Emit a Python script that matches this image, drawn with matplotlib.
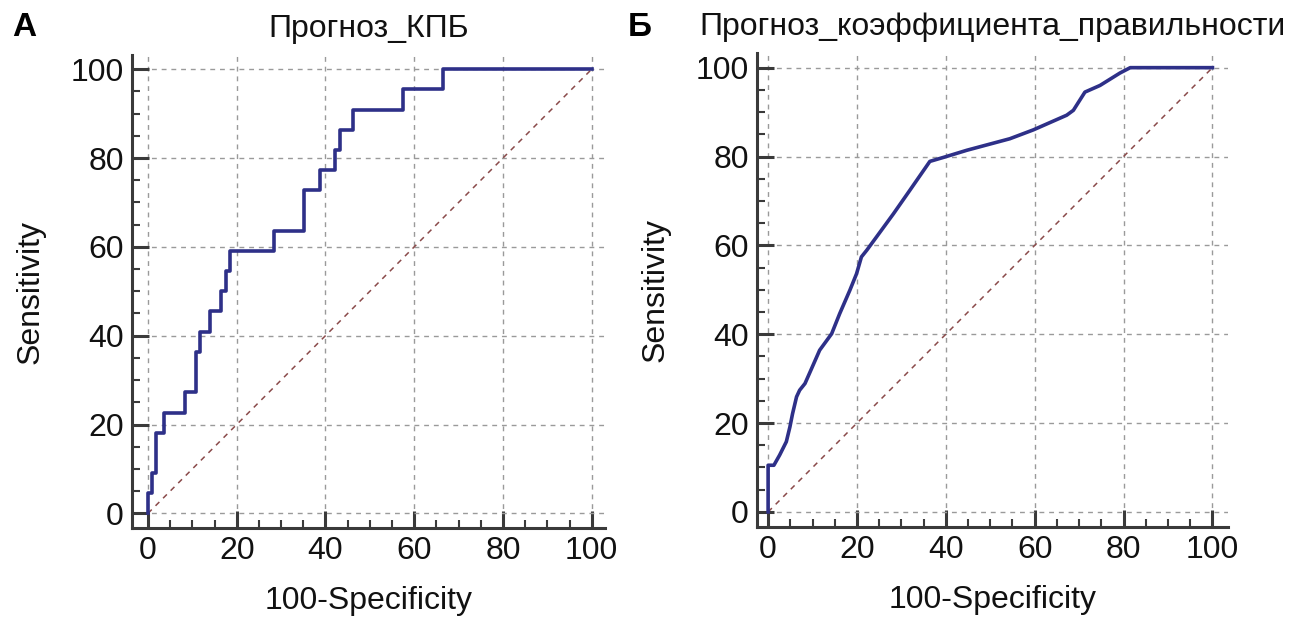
import matplotlib
matplotlib.use("Agg")
import matplotlib.pyplot as plt
from matplotlib.ticker import MultipleLocator

plt.rcParams['font.family'] = ['Liberation Sans', 'DejaVu Sans']

# Panel A: step ROC corner points (100-Specificity, Sensitivity)
fpr_a = [0, 0, 0.9, 1.8, 3.7, 8.4, 10.9, 11.8, 13.9, 16.4, 17.5, 18.5, 28.4,
         35.2, 38.7, 42.1, 43.2, 46.2, 57.5, 66.5, 100]
tpr_a = [0, 4.55, 9.09, 18.18, 22.7, 27.3, 36.4, 40.9, 45.5, 50.0, 54.5, 59.1,
         63.6, 72.7, 77.3, 81.8, 86.4, 90.9, 95.5, 100, 100]

# Panel B: smoothed ROC curve
fpr_b = [0, 0, 1.3, 2.6, 4.1, 4.9, 5.5, 6.4, 7.1, 8.3, 9.8, 11.6, 14.3, 16.1,
         18.4, 19.9, 21.0, 22.2, 24.4, 28.2, 31.9, 36.4, 39.8, 44.7, 54.4, 59.7,
         67.2, 68.7, 71.3, 74.7, 79.2, 81.5, 100]
tpr_b = [0, 10.5, 10.5, 12.8, 15.8, 19.1, 22.1, 25.9, 27.4, 28.9, 32.3, 36.4,
         40.1, 44.6, 49.9, 53.6, 57.4, 58.9, 61.9, 67.1, 72.4, 78.9, 79.9, 81.4,
         84.0, 86.0, 89.3, 90.4, 94.5, 96.0, 98.8, 100, 100]

titles = ["Прогноз_КПБ", "Прогноз_коэффициента_правильности"]
panel_labels = ["А", "Б"]
ticks = [0, 20, 40, 60, 80, 100]
xlabel = "100-Specificity"
ylabel = "Sensitivity"

W, H = 1301, 619
fig = plt.figure(figsize=(W / 100, H / 100), dpi=100)

def px_axes(l, r, t, b):
    return [l / W, 1 - b / H, (r - l) / W, (b - t) / H]

curve_color = "#2E3088"
diag_color = "#8A4A4A"
spine_color = "#3A3A3A"
FS = 23

axA = fig.add_axes(px_axes(132, 605, 55, 528))
axB = fig.add_axes(px_axes(757, 1228, 53, 527))
limits = [((-3.6, 103.0), (-3.3, 103.2)), ((-2.5, 103.5), (-3.4, 103.3))]

for ax, (xl, yl), title, pl in zip([axA, axB], limits, titles, panel_labels):
    ax.set_xlim(*xl)
    ax.set_ylim(*yl)
    for s in ["top", "right"]:
        ax.spines[s].set_visible(False)
    for s in ["left", "bottom"]:
        ax.spines[s].set_linewidth(2.2)
        ax.spines[s].set_color(spine_color)
    ax.set_xticks(ticks)
    ax.set_yticks(ticks)
    ax.xaxis.set_minor_locator(MultipleLocator(5))
    ax.yaxis.set_minor_locator(MultipleLocator(5))
    ax.tick_params(which="major", direction="in", length=12, width=2.2,
                   color=spine_color, labelsize=FS, pad=6, labelcolor="#111111")
    ax.tick_params(which="minor", direction="in", length=6, width=1.5,
                   color=spine_color)
    ax.grid(True, which="major", linestyle=(0, (3.5, 3.5)), color="#9a9a9a",
            linewidth=1.0)
    ax.set_axisbelow(True)
    ax.set_xlabel(xlabel, fontsize=FS, labelpad=14, color="#111111")
    ax.set_ylabel(ylabel, fontsize=FS, labelpad=18, color="#111111")
    ax.set_title(title, fontsize=FS, pad=13, color="#111111")
    ax.plot([0, 100], [0, 100], linestyle=(0, (3.5, 3.5)), color=diag_color,
            linewidth=1.1, zorder=2)

axA.plot(fpr_a, tpr_a, drawstyle="steps-post", color=curve_color,
         linewidth=2.6, zorder=3, clip_on=False)
axB.plot(fpr_b, tpr_b, color=curve_color, linewidth=2.6, zorder=3,
         clip_on=False)

fig.text(12 / W, 1 - 27 / H, panel_labels[0], fontsize=24, fontweight="bold",
         va="center", ha="left")
fig.text(628 / W, 1 - 27 / H, panel_labels[1], fontsize=24, fontweight="bold",
         va="center", ha="left")

fig.savefig("out.png", dpi=100)
